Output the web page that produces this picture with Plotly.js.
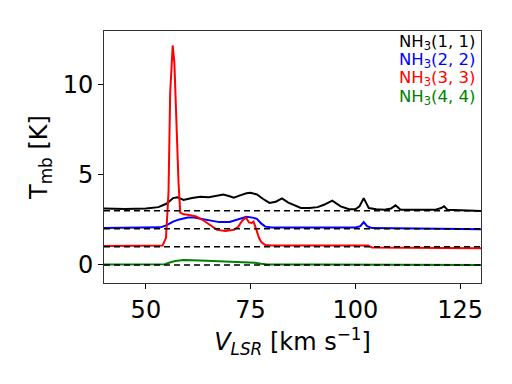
<!DOCTYPE html>
<html>
<head>
<meta charset="utf-8">
<script src="https://cdn.plot.ly/plotly-3.0.1.min.js"></script>
<style>
  body { margin: 0; background: #fff; }
  #chart { width: 512px; height: 384px; }
</style>
</head>
<body>
<div id="chart"></div>
<script>
// NH3 spectra, offset vertically
const vBlack = [40, 45, 50, 53, 55, 56.5, 57.5, 59, 61, 63, 65, 67, 68.5, 70, 71, 72.5, 74, 75, 76.5, 78, 79.5, 81, 82.5, 84, 85.5, 87, 89, 91, 92.5, 94.5, 96.5, 98.5, 100, 101, 102, 103.2, 105, 107, 108.5, 109.6, 110.8, 113, 116, 119, 120.5, 121.2, 122, 125, 128, 130];
const tBlack = [3.12, 3.1, 3.13, 3.2, 3.4, 3.7, 3.75, 3.6, 3.7, 3.78, 3.75, 3.85, 3.9, 3.8, 3.72, 3.85, 3.97, 4.0, 3.9, 3.65, 3.43, 3.5, 3.68, 3.45, 3.28, 3.15, 3.15, 3.2, 3.33, 3.56, 3.24, 3.08, 3.08, 3.25, 3.7, 3.15, 3.08, 3.06, 3.12, 3.3, 3.05, 3.05, 3.04, 3.05, 3.15, 3.25, 3.05, 3.02, 3.0, 2.98];

const vBlue = [40, 50, 53.5, 55, 56.5, 58, 60, 61.5, 63, 65, 67.5, 70, 72, 74, 75.5, 76.5, 77.5, 78.5, 80, 90, 100, 101.2, 102, 102.8, 104, 115, 130];
const tBlue = [2.05, 2.06, 2.08, 2.2, 2.4, 2.52, 2.63, 2.62, 2.55, 2.45, 2.37, 2.38, 2.5, 2.66, 2.62, 2.55, 2.3, 2.12, 2.07, 2.08, 2.07, 2.15, 2.37, 2.15, 2.04, 2.02, 1.98];

const vRed = [40, 50, 54, 54.8, 55.4, 55.8, 56.2, 56.4, 56.8, 57.2, 57.8, 58.2, 59, 60, 62, 63.5, 65, 67, 69, 71, 72, 73, 73.9, 74.6, 75.2, 75.7, 76.3, 77, 77.6, 78.5, 80, 90, 103, 104, 115, 130];
const tRed = [1.05, 1.06, 1.07, 1.5, 4.0, 9.5, 12.0, 12.15, 11.2, 8.0, 4.5, 2.9, 2.8, 2.78, 2.68, 2.5, 2.25, 1.94, 1.88, 1.95, 2.1, 2.45, 2.63, 2.35, 2.32, 2.4, 2.0, 1.5, 1.25, 1.1, 1.07, 1.07, 1.07, 0.97, 0.95, 0.93];

const vGreen = [40, 50, 54.5, 55.5, 57, 59, 61, 63, 66, 69, 72, 74, 76, 77.5, 79, 90, 130];
const tGreen = [0.02, 0.03, 0.04, 0.12, 0.22, 0.27, 0.28, 0.25, 0.22, 0.2, 0.18, 0.17, 0.12, 0.07, 0.03, 0.02, 0.0];

const offsets = [3, 2, 1, 0];
const labels = ['NH<sub>3</sub>(1, 1)', 'NH<sub>3</sub>(2, 2)', 'NH<sub>3</sub>(3, 3)', 'NH<sub>3</sub>(4, 4)'];
const colors = ['#000000', '#0000ff', '#ff0000', '#008000'];
const xRange = [40, 130];

const series = [[vBlack, tBlack], [vBlue, tBlue], [vRed, tRed], [vGreen, tGreen]];

let traces = series.map((s, i) => ({
    x: s[0], y: s[1],
    mode: 'lines', type: 'scatter',
    line: { color: colors[i], width: 2 },
    hoverinfo: 'skip'
}));

// dashed baselines
offsets.forEach(o => {
    traces.push({
        x: xRange, y: [o, o],
        mode: 'lines', type: 'scatter',
        line: { color: '#000000', width: 1.5, dash: '6px,4px' },
        hoverinfo: 'skip'
    });
});

const legendY = [0.956, 0.881, 0.81, 0.738];
const annotations = labels.map((t, i) => ({
    text: t, xref: 'paper', yref: 'paper',
    x: 0.989, y: legendY[i], xanchor: 'right', yanchor: 'middle',
    showarrow: false,
    font: { family: 'DejaVu Sans', size: 16.5, color: colors[i] }
}));

const layout = {
    width: 512, height: 384,
    margin: { l: 104, r: 31, t: 31, b: 101 },
    paper_bgcolor: '#ffffff', plot_bgcolor: '#ffffff',
    showlegend: false,
    font: { family: 'DejaVu Sans', color: '#000000' },
    xaxis: {
        range: xRange,
        tickvals: [50, 75, 100, 125],
        ticks: 'outside', ticklen: 5, tickwidth: 1, tickcolor: '#000',
        showgrid: false, zeroline: false,
        showline: true, mirror: true, linecolor: '#333', linewidth: 1,
        tickfont: { size: 24 },
        title: { text: '<i>V</i><sub><i>LSR</i></sub> [km s<sup>−1</sup>]', font: { size: 24 }, standoff: 6 }
    },
    yaxis: {
        range: [-1, 12.95],
        tickvals: [0, 5, 10],
        ticks: 'outside', ticklen: 5, tickwidth: 1, tickcolor: '#000',
        showgrid: false, zeroline: false,
        showline: true, mirror: true, linecolor: '#333', linewidth: 1,
        tickfont: { size: 24 },
        title: { text: 'T<sub>mb</sub> [K]', font: { size: 24 }, standoff: 8 }
    },
    annotations: annotations
};

Plotly.newPlot('chart', traces, layout, { displayModeBar: false, staticPlot: true });
</script>
</body>
</html>
